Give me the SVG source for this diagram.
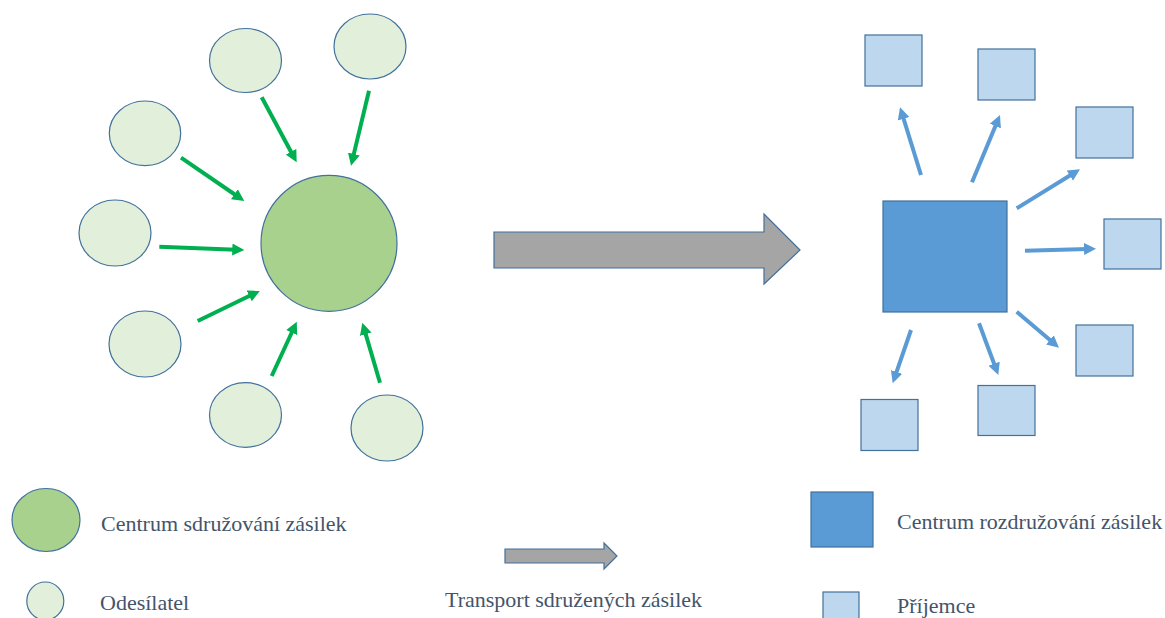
<svg xmlns="http://www.w3.org/2000/svg" width="1165" height="618" viewBox="0 0 1165 618">
<style>
.snd{fill:#e2efda;stroke:#41719c;stroke-width:1.2}
.hub{fill:#a9d18e;stroke:#41719c;stroke-width:1.2}
.rcv{fill:#bdd7ee;stroke:#41719c;stroke-width:1.2}
.dhub{fill:#5b9bd5;stroke:#41719c;stroke-width:1.2}
.gar{stroke:#00b050;stroke-width:4;fill:none;marker-end:url(#ga)}
.bar{stroke:#5b9bd5;stroke-width:4;fill:none;marker-end:url(#ba)}
.big{fill:#a5a5a5;stroke:#41719c;stroke-width:1.2}
.lbl{font-size:22px;fill:#44546a}
</style>
<defs>
<marker id="ga" markerUnits="userSpaceOnUse" markerWidth="13" markerHeight="13" refX="4" refY="6" orient="auto" viewBox="0 0 13 12"><path d="M0,0 L12,6 L0,12 Z" fill="#00b050"/></marker>
<marker id="ba" markerUnits="userSpaceOnUse" markerWidth="13" markerHeight="13" refX="4" refY="6" orient="auto" viewBox="0 0 13 12"><path d="M0,0 L12,6 L0,12 Z" fill="#5b9bd5"/></marker>
</defs>
<g id="sender1"><ellipse class="snd" cx="245.5" cy="60.5" rx="36" ry="32"/></g>
<g id="sender2"><ellipse class="snd" cx="370" cy="46.5" rx="36" ry="32.5"/></g>
<g id="sender3"><ellipse class="snd" cx="145" cy="133.3" rx="35.7" ry="32.3"/></g>
<g id="sender4"><ellipse class="snd" cx="115" cy="233" rx="36" ry="33"/></g>
<g id="sender5"><ellipse class="snd" cx="145" cy="344" rx="36" ry="33"/></g>
<g id="sender6"><ellipse class="snd" cx="245.5" cy="415" rx="36" ry="32.3"/></g>
<g id="sender7"><ellipse class="snd" cx="387" cy="428" rx="36" ry="33"/></g>
<g id="consolidation-center"><circle class="hub" cx="329" cy="243.3" r="68"/></g>
<g id="transport-arrow"><polygon class="big" points="494,232 764,232 764,214 800,250 764,284 764,268 494,268"/></g>
<g id="distribution-center"><rect class="dhub" x="883" y="201" width="124" height="111"/></g>
<g id="receiver1"><rect class="rcv" x="865" y="35" width="57" height="51"/></g>
<g id="receiver2"><rect class="rcv" x="978" y="49" width="57" height="51"/></g>
<g id="receiver3"><rect class="rcv" x="1076" y="107" width="57" height="51"/></g>
<g id="receiver4"><rect class="rcv" x="1104" y="219" width="57" height="50"/></g>
<g id="receiver5"><rect class="rcv" x="1076" y="325" width="57" height="51"/></g>
<g id="receiver6"><rect class="rcv" x="978" y="385.5" width="57" height="50"/></g>
<g id="receiver7"><rect class="rcv" x="861" y="399.5" width="57" height="51"/></g>
<g id="connectors">
<line class="gar" x1="261.7" y1="97.3" x2="292.9" y2="155.3"/>
<line class="gar" x1="369" y1="90.7" x2="352.9" y2="157.9"/>
<line class="gar" x1="181" y1="157.7" x2="237.7" y2="196.5"/>
<line class="gar" x1="159.3" y1="246.7" x2="236.3" y2="249.7"/>
<line class="gar" x1="197.7" y1="321" x2="252.8" y2="294.2"/>
<line class="gar" x1="271.7" y1="376" x2="293.4" y2="329"/>
<line class="gar" x1="380" y1="382.7" x2="364.6" y2="330.4"/>
<line class="bar" x1="921" y1="175" x2="902.4" y2="114.9"/>
<line class="bar" x1="972" y1="182.3" x2="996.9" y2="122.4"/>
<line class="bar" x1="1016.7" y1="208.3" x2="1073.2" y2="173.5"/>
<line class="bar" x1="1025" y1="250.7" x2="1088" y2="248.9"/>
<line class="bar" x1="1016.7" y1="311.7" x2="1052.9" y2="342.5"/>
<line class="bar" x1="979" y1="323.3" x2="995.5" y2="367.5"/>
<line class="bar" x1="911" y1="330" x2="895.3" y2="375.7"/>
</g>
<g font-family="'Liberation Serif', 'Times New Roman', serif">
<g id="legend-consolidation"><ellipse class="hub" cx="46" cy="520" rx="34" ry="31.5"/><text class="lbl" x="101" y="531" font-family="'Liberation Serif', 'Times New Roman', serif">Centrum sdružování zásilek</text></g>
<g id="legend-sender"><ellipse class="snd" cx="45.3" cy="601" rx="18.5" ry="19"/><text class="lbl" x="100" y="610" font-family="'Liberation Serif', 'Times New Roman', serif">Odesílatel</text></g>
<g id="legend-transport"><polygon class="big" points="505,549 604,549 604,543 617,556 604,569 604,563 505,563"/><text class="lbl" x="445" y="607" font-family="'Liberation Serif', 'Times New Roman', serif">Transport sdružených zásilek</text></g>
<g id="legend-distribution"><rect class="dhub" x="811" y="492" width="62" height="55"/><text class="lbl" x="897" y="529" font-family="'Liberation Serif', 'Times New Roman', serif">Centrum rozdružování zásilek</text></g>
<g id="legend-receiver"><rect class="rcv" x="823" y="592" width="36" height="32"/><text class="lbl" x="897" y="613" font-family="'Liberation Serif', 'Times New Roman', serif">Příjemce</text></g>
</g>
</svg>
